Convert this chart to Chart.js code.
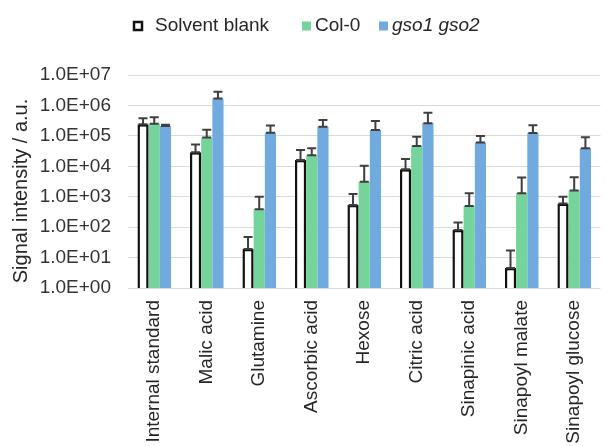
<!DOCTYPE html>
<html>
<head>
<meta charset="utf-8">
<script src="https://cdn.jsdelivr.net/npm/chart.js@4/dist/chart.umd.min.js"></script>
<style>
  html, body { margin: 0; padding: 0; background: #ffffff; overflow: hidden; width: 607px; height: 446px; }
  canvas { display: block; }
</style>
</head>
<body>
<canvas id="c" width="609" height="446"></canvas>
<script>
// ---- data ----
const categories = ["Internal standard", "Malic acid", "Glutamine", "Ascorbic acid", "Hexose",
                    "Citric acid", "Sinapinic acid", "Sinapoyl malate", "Sinapoyl glucose"];
const seriesNames = ["Solvent blank", "Col-0", "gso1 gso2"];
const blankValues = [240000, 29000, 19, 16000, 530, 8000, 81, 4.5, 600];
const blankErr    = [140000, 23000, 28, 18000, 700, 9400, 60, 12.5, 400];
const col0Values  = [250000, 89000, 390, 23000, 3100, 46000, 495, 1300, 1600];
const col0Err     = [160000, 70000, 610, 16000, 7400, 47000, 800, 3000, 2800];
const gsoValues   = [210000, 1700000, 127000, 200000, 156000, 260000, 60000, 125000, 39000];
const gsoErr      = [20000, 1100000, 93000, 130000, 150000, 320000, 38000, 100000, 51000];
const yTickValues = [1, 10, 100, 1000, 10000, 100000, 1000000, 10000000];
const yTickLabels = ["1.0E+00", "1.0E+01", "1.0E+02", "1.0E+03", "1.0E+04", "1.0E+05", "1.0E+06", "1.0E+07"];
const yTitle = "Signal intensity / a.u.";

const FONT = "'Liberation Sans', Arial, sans-serif";

const errorBarPlugin = {
  id: 'errorBars',
  afterDatasetsDraw(chart) {
    const ctx = chart.ctx;
    const y = chart.scales.y;
    ctx.save();
    ctx.strokeStyle = '#3f3f3f';
    ctx.lineWidth = 2;
    chart.data.datasets.forEach((ds, i) => {
      const meta = chart.getDatasetMeta(i);
      meta.data.forEach((bar, j) => {
        const v = ds.data[j];
        const top = y.getPixelForValue(v + ds.errorPlus[j]);
        const base = y.getPixelForValue(v);
        const x = bar.x;
        const hw = 4.5;
        ctx.beginPath();
        ctx.moveTo(x, base); ctx.lineTo(x, top);
        ctx.moveTo(x - hw, top); ctx.lineTo(x + hw, top);
        ctx.moveTo(x - hw, base); ctx.lineTo(x + hw, base);
        ctx.stroke();
      });
    });
    ctx.restore();
  }
};

const legendPlugin = {
  id: 'customLegend',
  afterDraw(chart) {
    const ctx = chart.ctx;
    const ds = chart.data.datasets;
    const items = [
      { box: 133, text: 155, size: 10, italic: false },
      { box: 302, text: 315, size: 9, italic: false },
      { box: 379, text: 392, size: 9, italic: true }
    ];
    ctx.save();
    ctx.textBaseline = 'middle';
    ctx.textAlign = 'left';
    items.forEach((it, i) => {
      const cy = 26;
      if (i === 0) {
        ctx.fillStyle = '#ffffff';
        ctx.fillRect(it.box, cy - 5, 10, 10);
        ctx.strokeStyle = '#111111';
        ctx.lineWidth = 2.5;
        ctx.strokeRect(it.box + 1, cy - 4, 8, 8);
      } else {
        ctx.fillStyle = ds[i].backgroundColor;
        ctx.fillRect(it.box, cy - 4.5, it.size, it.size);
      }
      ctx.fillStyle = '#262626';
      ctx.font = (it.italic ? 'italic ' : '') + '19px ' + FONT;
      ctx.fillText(ds[i].label, it.text, cy);
    });
    // y axis title
    ctx.translate(21, 191);
    ctx.rotate(-Math.PI / 2);
    ctx.textAlign = 'center';
    ctx.font = '20px ' + FONT;
    ctx.fillStyle = '#262626';
    ctx.fillText(yTitle, 0, 0);
    ctx.restore();
  }
};

new Chart(document.getElementById('c'), {
  type: 'bar',
  data: {
    labels: categories,
    datasets: [
      { label: seriesNames[0], data: blankValues, errorPlus: blankErr,
        backgroundColor: '#ffffff', borderColor: '#111111', borderWidth: 2.5 },
      { label: seriesNames[1], data: col0Values, errorPlus: col0Err,
        backgroundColor: '#74d49b', borderWidth: 0 },
      { label: seriesNames[2], data: gsoValues, errorPlus: gsoErr,
        backgroundColor: '#71aadf', borderWidth: 0 }
    ]
  },
  options: {
    responsive: false,
    devicePixelRatio: 1,
    animation: false,
    categoryPercentage: 0.64,
    barPercentage: 1.0,
    layout: { padding: { top: 75, left: 0, right: 0, bottom: 0 } },
    plugins: { legend: { display: false }, tooltip: { enabled: false } },
    scales: {
      x: {
        grid: { display: false, drawTicks: false },
        border: { display: false },
        ticks: {
          minRotation: 90, maxRotation: 90, autoSkip: false, padding: 12,
          color: '#262626', font: { family: FONT, size: 19 }
        },
        afterFit(scale) { scale.height = 158; }
      },
      y: {
        type: 'logarithmic',
        min: 1, max: 10000000,
        grid: { color: '#d9d9d9', lineWidth: 1, drawTicks: false },
        border: { display: false },
        afterBuildTicks(scale) { scale.ticks = yTickValues.map(v => ({ value: v })); },
        ticks: {
          padding: 17,
          color: '#333333',
          font: { family: FONT, size: 19 },
          callback(value) {
            const idx = yTickValues.indexOf(value);
            return idx >= 0 ? yTickLabels[idx] : '';
          }
        },
        afterFit(scale) { scale.width = 128; }
      }
    }
  },
  plugins: [errorBarPlugin, legendPlugin]
});
</script>
</body>
</html>
